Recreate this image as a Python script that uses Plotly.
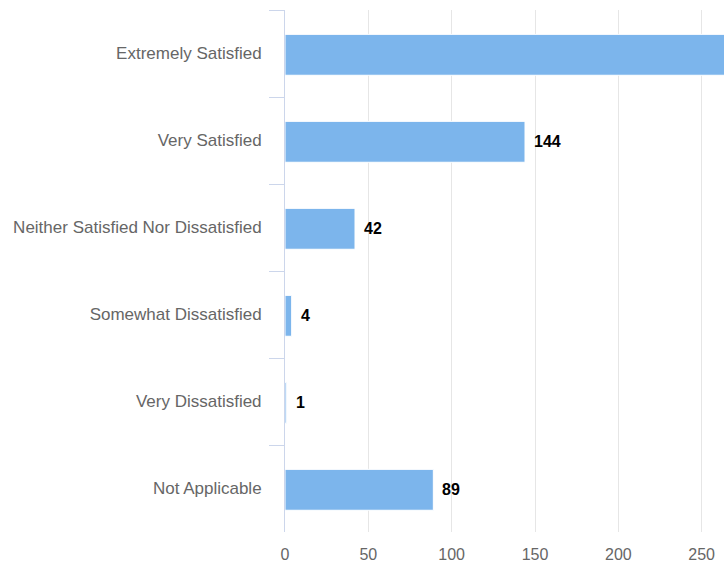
import plotly.graph_objects as go

# Survey responses: satisfaction level and number of respondents
categories = [
    "Extremely Satisfied",
    "Very Satisfied",
    "Neither Satisfied Nor Dissatisfied",
    "Somewhat Dissatisfied",
    "Very Dissatisfied",
    "Not Applicable",
]
counts = [300, 144, 42, 4, 1, 89]
x_ticks = [0, 50, 100, 150, 200, 250]

x_max = 263.4
FONT = "Liberation Sans, Arial, sans-serif"
BAR_WIDTH = 0.47

fig = go.Figure(
    go.Bar(
        x=counts,
        y=categories,
        orientation="h",
        width=BAR_WIDTH,
        offset=-BAR_WIDTH / 2 + 0.015,
        marker=dict(color="#7cb5ec", line=dict(color="#ffffff", width=1)),
        cliponaxis=True,
        hoverinfo="x+y",
    )
)

# Value labels to the right of each bar (only where the bar end is in view)
for cat, val in zip(categories, counts):
    if val < x_max:
        fig.add_annotation(
            x=val, y=cat, text=f"<b>{val}</b>",
            showarrow=False, xanchor="left", yanchor="middle",
            xshift=7, yshift=-1, font=dict(family=FONT, size=16, color="#000000"),
        )

fig.update_layout(
    width=724,
    height=572,
    margin=dict(l=285, r=0, t=10, b=40),
    paper_bgcolor="#ffffff",
    plot_bgcolor="#ffffff",
    showlegend=False,
    font=dict(family=FONT, size=16, color="#666666"),
    xaxis=dict(
        range=[0, x_max],
        tickvals=x_ticks,
        showgrid=True,
        gridcolor="#e6e6e6",
        gridwidth=1,
        zeroline=False,
        showline=False,
        ticks="",
        ticklabelstandoff=11,
        tickfont=dict(size=16, color="#666666"),
        fixedrange=True,
    ),
    yaxis=dict(
        autorange="reversed",
        showline=True,
        linecolor="#ccd6eb",
        linewidth=1,
        ticks="outside",
        tickson="boundaries",
        ticklen=15,
        tickcolor="#ccd6eb",
        ticklabelstandoff=19,
        showgrid=False,
        tickfont=dict(size=17, color="#666666"),
        fixedrange=True,
    ),
)

fig.write_html("out.html")
